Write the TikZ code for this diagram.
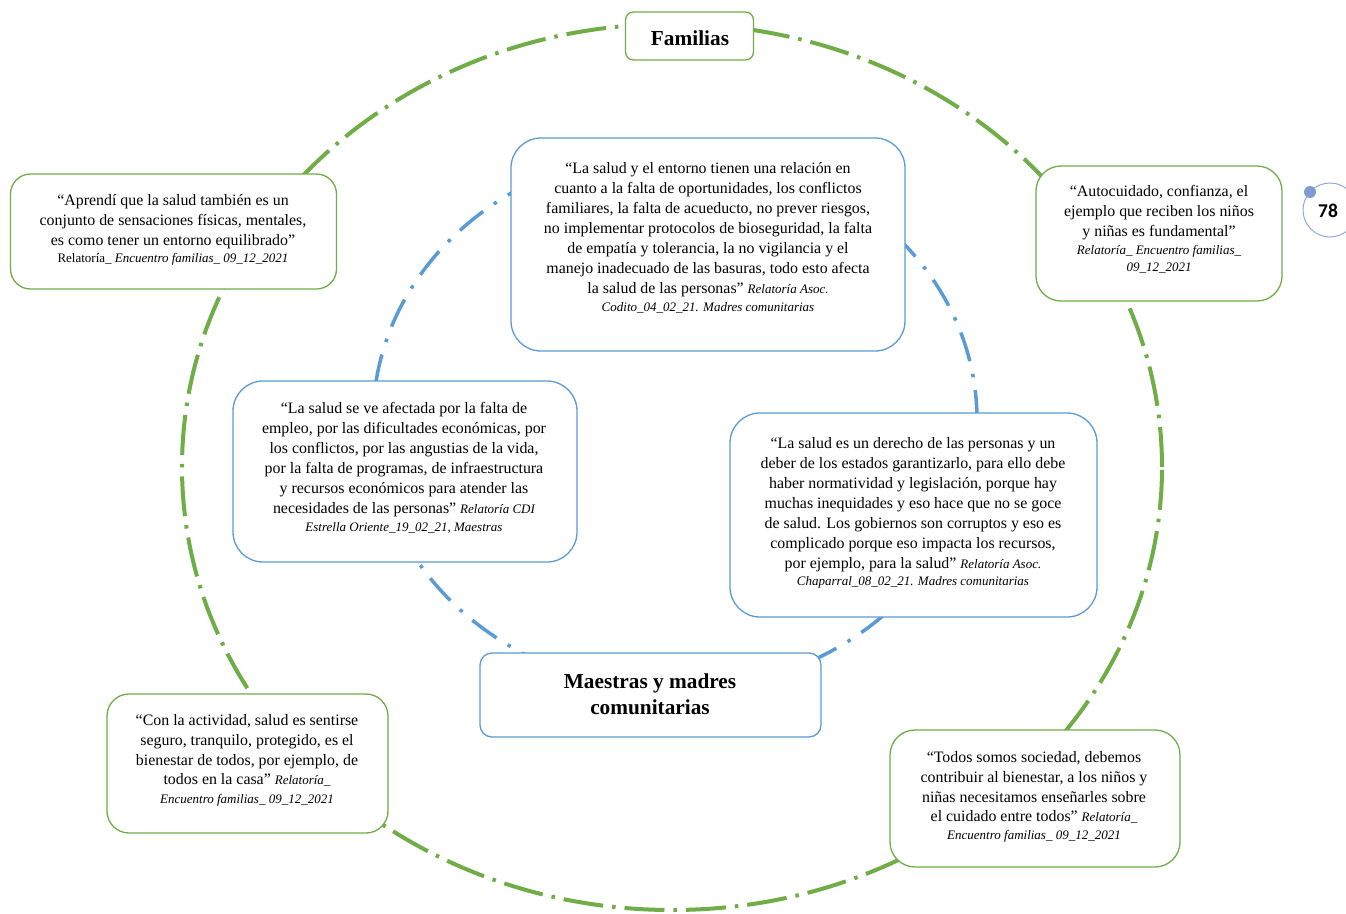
\documentclass[tikz,border=0pt]{standalone}
\usepackage{fontspec}
\setmainfont{Liberation Serif}
\newfontfamily\numfont{Carlito}
\definecolor{gr}{HTML}{70AD47}
\definecolor{bl}{HTML}{5B9BD5}
\definecolor{pn}{HTML}{8EAADB}
\definecolor{pndot}{HTML}{7E9CCF}
\newcommand\cit[1]{{\fontsize{13pt}{17pt}\selectfont\itshape #1}}
\newcommand\citup[1]{{\fontsize{13pt}{17pt}\selectfont #1}}
\tikzset{
  gbox/.style={draw=gr, line width=1.3pt, fill=white, inner sep=0pt},
  bbox/.style={draw=bl, line width=1.3pt, fill=white, inner sep=0pt},
  txt/.style={align=center, inner sep=0pt, font=\fontsize{15.9pt}{20pt}\selectfont},
  ttl/.style={align=center, inner sep=0pt, font=\bfseries\fontsize{21.3pt}{26pt}\selectfont},
  gring/.style={gr, line width=4pt, dash pattern=on 40pt off 9pt on 3.5pt off 9pt},
  bring/.style={bl, line width=3.5pt, dash pattern=on 30pt off 13pt on 3.5pt off 13pt}
}
\begin{document}
\begin{tikzpicture}[x=1pt,y=-1pt]
\useasboundingbox (0,0) rectangle (1346,913);
% rings
\draw[gring] (672,467) ellipse [x radius=490pt, y radius=443pt];
\draw[bring] (675,420) ellipse [x radius=302pt, y radius=270pt];
% boxes
\node[gbox, rounded corners=8pt, minimum width=128pt, minimum height=48pt] (fam) at (689.5,36) {};
\node[ttl] (famt) at (690,38) {Familias};
\node[bbox, rounded corners=12pt, minimum width=341pt, minimum height=84pt] (mae) at (650.5,695) {};
\node[ttl] (maet) at (650,694) {Maestras y madres\\comunitarias};

\node[gbox, rounded corners=20pt, minimum width=326pt, minimum height=115pt] (b1) at (173.5,231.5) {};
\node[txt] (t1) at (173,229.5) {“Aprendí que la salud también es un\\ conjunto de sensaciones físicas, mentales,\\ es como tener un entorno equilibrado”\\[-3pt] \citup{Relatoría\_ \itshape Encuentro familias\_ 09\_12\_2021}};

\node[bbox, rounded corners=30pt, minimum width=394pt, minimum height=213pt] (b2) at (708,244.5) {};
\node[txt] (t2) at (708,237.5) {“La salud y el entorno tienen una relación en\\ cuanto a la falta de oportunidades, los conflictos\\ familiares, la falta de acueducto, no prever riesgos,\\ no implementar protocolos de bioseguridad, la falta\\ de empatía y tolerancia, la no vigilancia y el\\ manejo inadecuado de las basuras, todo esto afecta\\ la salud de las personas” \cit{Relatoría Asoc.}\\[-2pt] \cit{Codito\_04\_02\_21. Madres comunitarias}};

\node[gbox, rounded corners=25pt, minimum width=246pt, minimum height=135pt] (b3) at (1159,233.5) {};
\node[txt] (t3) at (1159,229.5) {“Autocuidado, confianza, el\\ ejemplo que reciben los niños\\ y niñas es fundamental”\\[-2pt] \cit{Relatoría\_ Encuentro familias\_}\\[-3pt] \cit{09\_12\_2021}};

\node[bbox, rounded corners=30pt, minimum width=344pt, minimum height=181pt] (b4) at (405,471.5) {};
\node[txt] (t4) at (404,468) {“La salud se ve afectada por la falta de\\ empleo, por las dificultades económicas, por\\ los conflictos, por las angustias de la vida,\\ por la falta de programas, de infraestructura\\ y recursos económicos para atender las\\ necesidades de las personas” \cit{Relatoría CDI}\\[-2pt] \cit{Estrella Oriente\_19\_02\_21, Maestras}};

\node[bbox, rounded corners=30pt, minimum width=367pt, minimum height=204pt] (b5) at (913.5,515) {};
\node[txt] (t5) at (913,512.5) {“La salud es un derecho de las personas y un\\ deber de los estados garantizarlo, para ello debe\\ haber normatividad y legislación, porque hay\\ muchas inequidades y eso hace que no se goce\\ de salud. Los gobiernos son corruptos y eso es\\ complicado porque eso impacta los recursos,\\ por ejemplo, para la salud” \cit{Relatoría Asoc.}\\[-3pt] \cit{Chaparral\_08\_02\_21. Madres comunitarias}};

\node[gbox, rounded corners=22pt, minimum width=281pt, minimum height=139pt] (b6) at (247.5,763.5) {};
\node[txt] (t6) at (247,760) {“Con la actividad, salud es sentirse\\ seguro, tranquilo, protegido, es el\\ bienestar de todos, por ejemplo, de\\[-1pt] todos en la casa” \cit{Relatoría\_}\\[-1pt] \cit{Encuentro familias\_ 09\_12\_2021}};

\node[gbox, rounded corners=25pt, minimum width=290pt, minimum height=137pt] (b7) at (1035,798.5) {};
\node[txt] (t7) at (1034,796.5) {“Todos somos sociedad, debemos\\ contribuir al bienestar, a los niños y\\ niñas necesitamos enseñarles sobre\\[-1pt] el cuidado entre todos” \cit{Relatoría\_}\\[-2pt] \cit{Encuentro familias\_ 09\_12\_2021}};

% page number
\node[circle, draw=pn, line width=1pt, minimum size=54pt, inner sep=0pt] (pg) at (1330,210) {};
\node[circle, fill=pndot, minimum size=12pt, inner sep=0pt] (pgdot) at (1310,192) {};
\node[inner sep=0pt, font=\numfont\bfseries\fontsize{19.5pt}{20pt}\selectfont] (pgn) at (1328,211) {78};
\end{tikzpicture}
\end{document}
